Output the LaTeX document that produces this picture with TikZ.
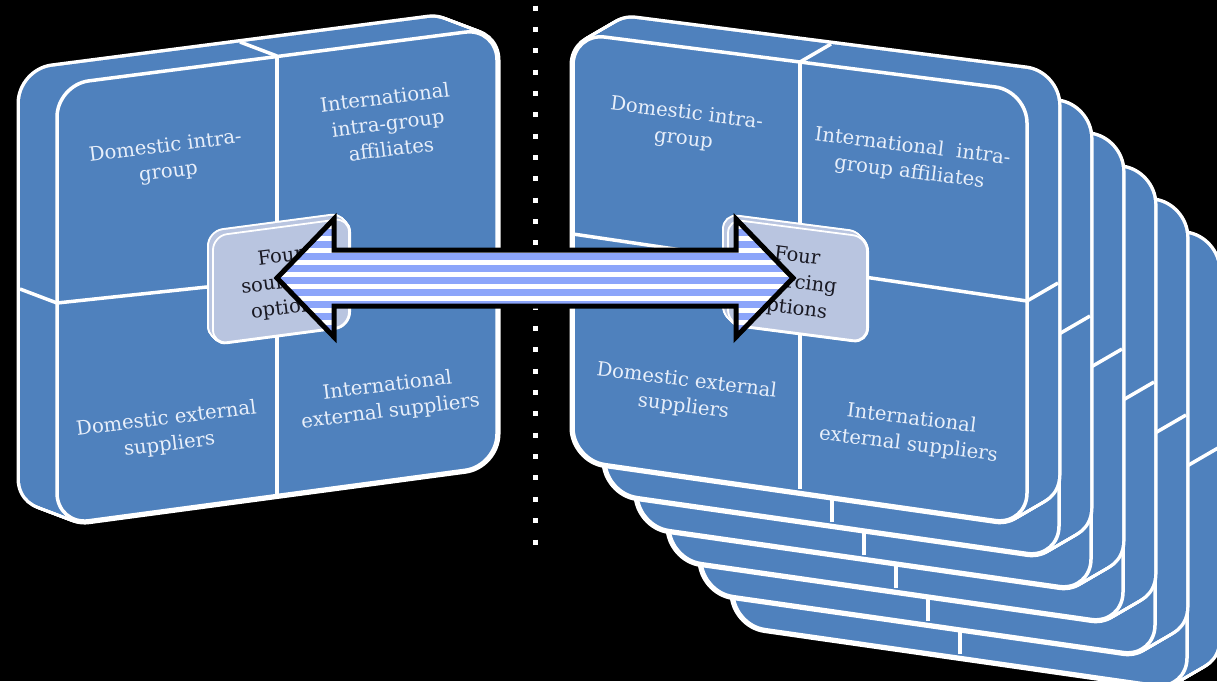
\documentclass[tikz,border=0pt]{standalone}
\usepackage{fontspec}
\setmainfont{DejaVu Serif}
\definecolor{pblue}{RGB}{79,129,189}
\definecolor{ptxt}{RGB}{232,239,250}
\definecolor{bfill}{RGB}{185,197,224}
\definecolor{stripe}{RGB}{140,165,250}
\definecolor{btxt}{RGB}{25,25,35}
\tikzset{
 pnlline/.style={draw=white,line width=7pt,rounded corners=32pt},
 pnlfill/.style={fill=pblue,rounded corners=32pt},
 pnlface/.style={draw=white,line width=3.5pt,rounded corners=32pt},
 boxline/.style={draw=white,line width=4pt,rounded corners=14pt},
 boxfill/.style={fill=bfill,rounded corners=14pt},
 boxface/.style={draw=white,line width=1.8pt,rounded corners=14pt},
 divline/.style={draw=white,line width=3.5pt},
 ptext/.style={text=ptxt,align=center,inner sep=0pt,font=\fontsize{19.6}{26}\selectfont},
 btext/.style={text=btxt,align=center,inner sep=0pt,font=\fontsize{19.5}{26}\selectfont},
}
\newcommand{\slab}[8]{%
  \foreach \i in {0,...,#8}{\path[#1line,shift={({(#6)*\i/#8},{(#7)*\i/#8})}] #2 -- #3 -- #4 -- #5 -- cycle;}
  \foreach \i in {0,...,#8}{\path[#1fill,shift={({(#6)*\i/#8},{(#7)*\i/#8})}] #2 -- #3 -- #4 -- #5 -- cycle;}
  \path[#1face] #2 -- #3 -- #4 -- #5 -- cycle;
}
\begin{document}
\begin{tikzpicture}[x=1pt,y=-1pt]
\useasboundingbox (0,0) rectangle (1217,681);
\fill[black] (0,0) rectangle (1217,681);

% ---------- left panel ----------
\slab{pnl}{(57,85)}{(497,28)}{(497,466)}{(57,525)}{-37}{-14}{20}
\draw[divline] (57,303) -- (497,256);
\draw[divline] (277,56) -- (277,496);
\draw[divline] (57,303) -- (20,289);
\draw[divline] (277,56) -- (240,42);
\node[ptext,rotate=7] (l1) at (167,160) {Domestic intra-\\group};
\node[ptext,rotate=7] (l2) at (388,123) {International\\intra-group\\affiliates};
\node[ptext,rotate=7] (l3) at (168,432) {Domestic external\\suppliers};
\node[ptext,rotate=7] (l4) at (389,399) {International\\external suppliers};
\slab{box}{(213,236)}{(349,218)}{(349,326)}{(213,344)}{-4}{-4}{8}
\node[btext,rotate=7] (lb) at (284,283) {Four\\sourcing\\options};

% ---------- right stack ----------
\foreach \k in {5,4,3,2,1,0}{
 \begin{scope}[shift={(32*\k,33*\k)}]
  \slab{pnl}{(573,33)}{(1027,91)}{(1027,525)}{(573,460)}{31}{-18}{20}
  \draw[divline] (573,234) -- (1027,301);
  \draw[divline] (800,62) -- (800,489);
  \draw[divline] (1027,301) -- (1058,283);
  \draw[divline] (800,62) -- (831,44);
 \end{scope}
}
\node[ptext,rotate=-7] (r1) at (685,127) {Domestic intra-\\group};
\node[ptext,rotate=-7] (r2) at (911,160) {International\ \ intra-\\group affiliates};
\node[ptext,rotate=-7] (r3) at (685,394) {Domestic external\\suppliers};
\node[ptext,rotate=-7] (r4) at (910,432) {International\\external suppliers};
\slab{box}{(728,219)}{(867,237)}{(867,342)}{(728,324)}{-4}{-4}{8}
\node[btext,rotate=-7] (rb) at (794,283) {Four\\sourcing\\options};

% ---------- dotted separator ----------
\coordinate (dtop) at (535,5.5);
\coordinate (dbot) at (535,546);
\draw[white,line width=5pt,dash pattern=on 5pt off 16.36pt] (dtop) -- (dbot);

% ---------- double arrow ----------
\coordinate (ltip) at (277,278);
\coordinate (rtip) at (793,278);
\begin{scope}
 \clip (ltip) -- (334,219) -- (334,250) -- (736,250) -- (736,219) -- (rtip) -- (736,337) -- (736,306) -- (334,306) -- (334,337) -- cycle;
 \fill[white] (270,210) rectangle (800,345);
 \foreach \j in {0,...,10}{\fill[stripe] (270,{217+12*\j}) rectangle (800,{223.5+12*\j});}
\end{scope}
\draw[black,line width=5pt,line join=miter] (ltip) -- (334,219) -- (334,250) -- (736,250) -- (736,219) -- (rtip) -- (736,337) -- (736,306) -- (334,306) -- (334,337) -- cycle;
\end{tikzpicture}
\end{document}
